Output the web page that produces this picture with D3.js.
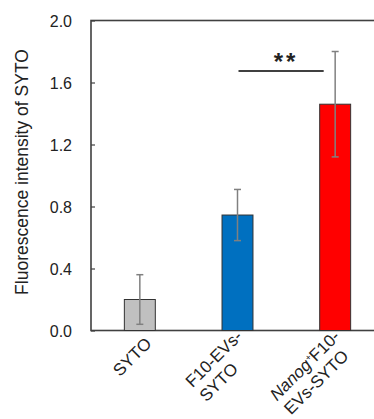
<!DOCTYPE html>
<html>
<head>
<meta charset="utf-8">
<script src="https://cdn.jsdelivr.net/npm/d3@7"></script>
<style>
  body { margin: 0; background: #fff; }
  svg { display: block; font-family: "Liberation Sans", Arial, sans-serif; }
</style>
</head>
<body>
<div id="chart"></div>
<script>
// data
const categories = ["SYTO", "F10-EVs-SYTO", "Nanog+F10-EVs-SYTO"];
const means = [0.20, 0.745, 1.46];
const errors = [0.16, 0.165, 0.34];
const colors = ["#c0c0c0", "#0070c0", "#ff0000"];
const tickLabels = [["SYTO"], ["F10-EVs-", "SYTO"], ["Nanog+F10-", "EVs-SYTO"]];
const yTicks = [0, 0.4, 0.8, 1.2, 1.6, 2.0];
const sigPair = ["F10-EVs-SYTO", "Nanog+F10-EVs-SYTO"];
const sigLabel = "**";

const width = 374, height = 419;
const plotL = 91, plotR = 384, plotT = 20.5, plotB = 330.5;

const svg = d3.select("#chart").append("svg")
  .attr("width", width)
  .attr("height", height);

const x = d3.scaleBand()
  .domain(categories)
  .range([plotL, plotR])
  .paddingInner(0.683)
  .paddingOuter(0.3415);

const y = d3.scaleLinear()
  .domain([0, 2])
  .range([plotB, plotT]);

// y axis, ticks pointing inside
const yAxis = svg.append("g")
  .attr("transform", `translate(${plotL},0)`)
  .call(d3.axisRight(y).tickValues(yTicks).tickSize(4).tickFormat(d3.format(".1f")));
yAxis.select(".domain").remove();
yAxis.selectAll("line").attr("stroke", "#404040").attr("stroke-width", 1.2);
yAxis.selectAll("text")
  .attr("x", -19)
  .attr("dy", "0.35em")
  .attr("text-anchor", "end")
  .attr("fill", "#222")
  .style("font-size", "16px");

// plot frame
svg.append("rect")
  .attr("x", plotL).attr("y", plotT)
  .attr("width", plotR - plotL).attr("height", plotB - plotT)
  .attr("fill", "none")
  .attr("stroke", "#404040")
  .attr("stroke-width", 1.6);

// bars
svg.append("g").selectAll("rect")
  .data(categories)
  .join("rect")
  .attr("x", d => x(d))
  .attr("y", (d, i) => y(means[i]))
  .attr("width", x.bandwidth())
  .attr("height", (d, i) => y(0) - y(means[i]))
  .attr("fill", (d, i) => colors[i])
  .attr("stroke", "#333")
  .attr("stroke-width", 1);

// error bars
const eb = svg.append("g").attr("stroke", "#808080").attr("stroke-width", 1.5);
categories.forEach((c, i) => {
  const cx = x(c) + x.bandwidth() / 2;
  const y1 = y(means[i] + errors[i]), y2 = y(means[i] - errors[i]);
  eb.append("line").attr("x1", cx).attr("x2", cx).attr("y1", y1).attr("y2", y2);
  eb.append("line").attr("x1", cx - 3.5).attr("x2", cx + 3.5).attr("y1", y1).attr("y2", y1);
  eb.append("line").attr("x1", cx - 3.5).attr("x2", cx + 3.5).attr("y1", y2).attr("y2", y2);
});

// significance bracket
const sx1 = x(sigPair[0]) + x.bandwidth() / 2 + 1;
const sx2 = x(sigPair[1]) + 4;
svg.append("line")
  .attr("x1", sx1).attr("x2", sx2)
  .attr("y1", 71).attr("y2", 71)
  .attr("stroke", "#404040").attr("stroke-width", 2);
svg.append("text")
  .attr("x", (sx1 + sx2) / 2 + 5)
  .attr("y", 70)
  .attr("text-anchor", "middle")
  .attr("fill", "#222")
  .style("font-size", "24px")
  .style("font-weight", "bold")
  .style("letter-spacing", "3px")
  .text(sigLabel);

// rotated category labels, lines start-aligned, block end near the tick
function addLine(text, str) {
  const m = str.match(/^(Nanog)\+(.*)$/);
  if (m) {
    text.append("tspan").style("font-style", "italic").text(m[1]);
    text.append("tspan").attr("dx", 0.5).attr("dy", -6).style("font-size", "9px").text("+");
    text.append("tspan").attr("dx", -0.5).attr("dy", 6).text(m[2]);
  } else {
    text.append("tspan").text(str);
  }
}

const fs = 17, lineH = 20;
const labG = svg.append("g").attr("fill", "#222").style("font-size", fs + "px");
categories.forEach((c, i) => {
  const cx = x(c) + x.bandwidth() / 2;
  const g = labG.append("g")
    .attr("transform", `translate(${cx},${plotB}) rotate(-45)`);
  const n = tickLabels[i].length;
  const texts = tickLabels[i].map((ln, j) => {
    const t = g.append("text")
      .attr("y", 19 - (n - 1) * lineH / 2 + j * lineH);
    addLine(t, ln);
    return t;
  });
  const maxW = d3.max(texts, t => t.node().getComputedTextLength());
  texts.forEach(t => t.attr("x", -1 - maxW));
});

// y axis title
svg.append("text")
  .attr("transform", "translate(28,172) rotate(-90)")
  .attr("text-anchor", "middle")
  .attr("fill", "#222")
  .style("font-size", "17.5px")
  .text("Fluorescence intensity of SYTO");
</script>
</body>
</html>
